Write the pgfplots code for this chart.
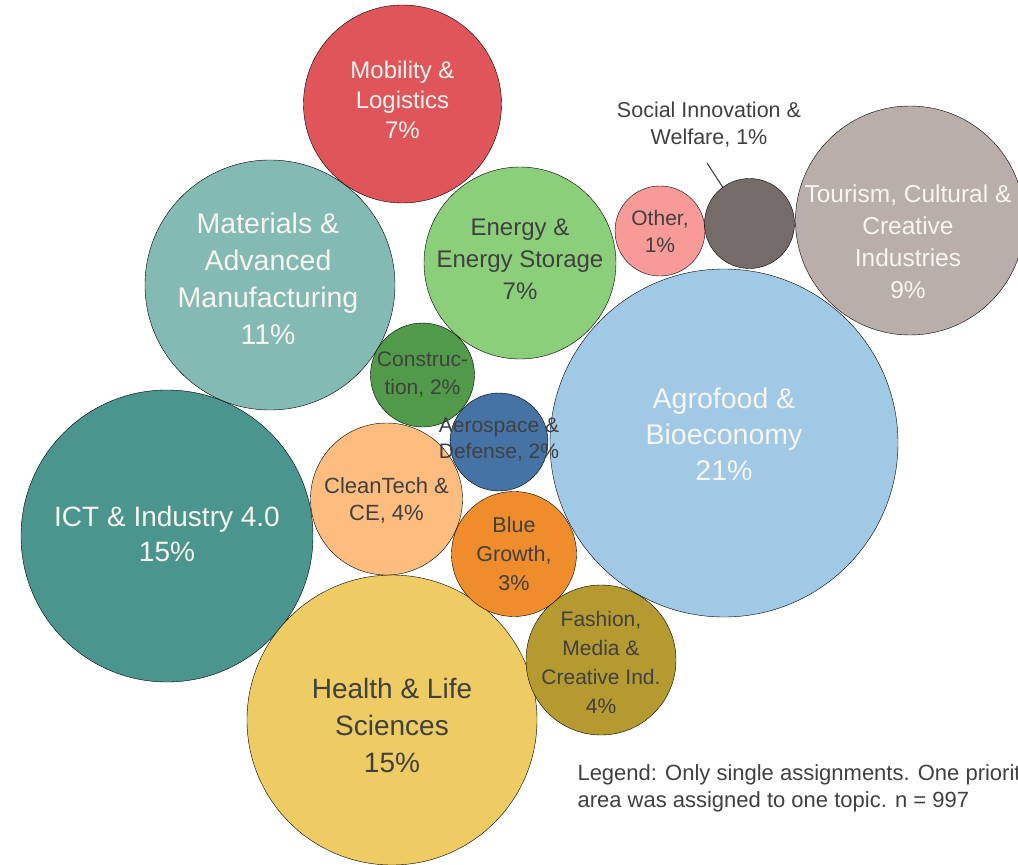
\documentclass[border=0pt]{standalone}
\usepackage{pgfplots}
\pgfplotsset{compat=1.18}
\usepackage{fontspec}
\setmainfont{Liberation Sans}
\definecolor{cMob}{HTML}{E0555A}
\definecolor{cMat}{HTML}{83BAB4}
\definecolor{cEne}{HTML}{8BCF7B}
\definecolor{cOth}{HTML}{F89A98}
\definecolor{cSoc}{HTML}{756B68}
\definecolor{cTou}{HTML}{B9AEA9}
\definecolor{cAgr}{HTML}{A0C9E6}
\definecolor{cCon}{HTML}{509A4A}
\definecolor{cAer}{HTML}{4673A5}
\definecolor{cICT}{HTML}{4A968F}
\definecolor{cCle}{HTML}{FEBD7E}
\definecolor{cBlu}{HTML}{EF8C2C}
\definecolor{cFas}{HTML}{B59A30}
\definecolor{cHea}{HTML}{EECC63}
\definecolor{tDark}{HTML}{404040}
\definecolor{tLight}{HTML}{F8F4EE}
\pgfplotsset{
  bubble/.style n args={5}{only marks, mark=*, mark size=#1bp,
    mark options={draw=none, fill=#2},
    nodes near coords={#3},
    every node near coord/.append style={anchor=center, align=center,
      inner sep=0pt, text=#4, font=#5}},
}
\newcommand{\fs}[2]{\fontsize{#1bp}{#2bp}\selectfont}
\begin{document}
\begin{tikzpicture}
\useasboundingbox (0,0) rectangle (1018bp,865bp);
\clip (0,0) rectangle (1018bp,865bp);
\begin{axis}[at={(0,0)}, anchor=south west, scale only axis,
  width=1018bp, height=865bp, xmin=0, xmax=1018, ymin=0, ymax=865,
  y dir=reverse, hide axis, clip=false]
% x y (pixel coordinates, y down), radius in bp
\addplot[bubble={174}{cAgr}{Agrofood \&\\Bioeconomy\\21\%}{tLight}{\fs{28.5}{36}},
  every node near coord/.append style={yshift=9bp}] coordinates {(724,443)};
\addplot[bubble={146}{cICT}{ICT \& Industry 4.0\\15\%}{tLight}{\fs{28}{35}},
  every node near coord/.append style={yshift=2bp}] coordinates {(167,536)};
\addplot[bubble={145}{cHea}{Health \& Life\\Sciences\\15\%}{tDark}{\fs{28}{37}},
  every node near coord/.append style={yshift=-5bp}] coordinates {(392,720)};
\addplot[bubble={125}{cMat}{Materials \&\\Advanced\\Manufacturing\\11\%}{tLight}{\fs{28.5}{37}},
  every node near coord/.append style={yshift=6bp, xshift=-2bp}] coordinates {(270,285)};
\addplot[bubble={114.5}{cTou}{Tourism, Cultural \&\\Creative\\Industries\\9\%}{tLight}{\fs{24.5}{32}},
  every node near coord/.append style={yshift=-21bp, xshift=-2bp}] coordinates {(910,220.5)};
\addplot[bubble={99}{cMob}{Mobility \&\\Logistics\\7\%}{tLight}{\fs{24}{30}},
  every node near coord/.append style={yshift=4bp}] coordinates {(402.5,104)};
\addplot[bubble={96}{cEne}{Energy \&\\Energy Storage\\7\%}{tDark}{\fs{24}{32}},
  every node near coord/.append style={yshift=4bp}] coordinates {(520,263)};
\addplot[bubble={76}{cCle}{CleanTech \&\\CE, 4\%}{tDark}{\fs{22}{27}},
  every node near coord/.append style={yshift=-1bp}] coordinates {(386.5,499)};
\addplot[bubble={75}{cFas}{Fashion,\\Media \&\\Creative Ind.\\4\%}{tDark}{\fs{21}{29}},
  every node near coord/.append style={yshift=-2bp}] coordinates {(601,660)};
\addplot[bubble={62.5}{cBlu}{Blue\\Growth,\\3\%}{tDark}{\fs{21.5}{29}}] coordinates {(514,554)};
\addplot[bubble={52}{cCon}{Construc-\\tion, 2\%}{tDark}{\fs{21}{28}}] coordinates {(422.5,375)};
\addplot[bubble={49}{cAer}{Aerospace \&\\Defense, 2\%}{tDark}{\fs{21}{26}},
  every node near coord/.append style={yshift=2bp}] coordinates {(499,442)};
\addplot[bubble={45}{cOth}{Other,\\1\%}{tDark}{\fs{21}{27}}] coordinates {(660,231)};
\addplot[bubble={45}{cSoc}{}{tDark}{\fs{21}{27}}] coordinates {(749.5,223.5)};
\draw[tDark, line width=1.1bp] (axis cs:707,163) -- (axis cs:746,223);
\node[align=center, text=tDark, font=\fs{21.5}{27}] at (axis cs:709,125)
  {Social Innovation \&\\Welfare, 1\%};
\node[anchor=west, align=left, text=tDark, font=\fs{22}{27}] at (axis cs:574,788)
  {Legend: Only single assignments. One priority\\area was assigned to one topic. n = 997};
\end{axis}
\end{tikzpicture}
\end{document}
